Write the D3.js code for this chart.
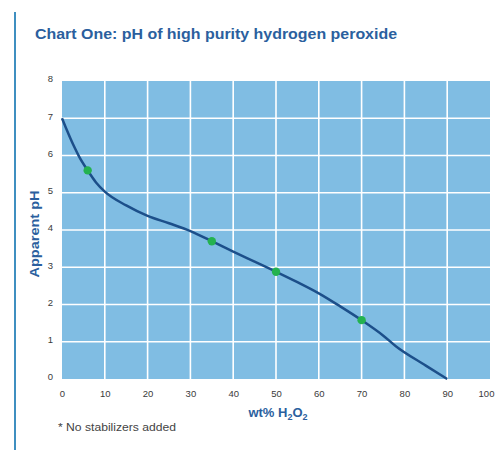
<!DOCTYPE html>
<html>
<head>
<meta charset="utf-8">
<script src="https://cdn.jsdelivr.net/npm/d3@7"></script>
<style>
  body { margin: 0; background: #fff; font-family: "Liberation Sans", Arial, sans-serif; }
</style>
</head>
<body>
<div id="wrapper"></div>
<script>
// 1. Data

const wtPercent = [0, 1, 2, 3, 4, 6, 8, 10, 15, 20, 25, 30, 35, 40, 45, 50, 55, 60, 65, 70, 75, 78, 85, 90]
const apparentPH = [7.0, 6.72, 6.45, 6.2, 5.97, 5.6, 5.27, 5.03, 4.66, 4.38, 4.18, 3.97, 3.7, 3.42, 3.15, 2.88, 2.6, 2.3, 1.95, 1.58, 1.17, 0.88, 0.36, 0]

const markerWt = [6, 35, 50, 70]
const markerPH = [5.6, 3.7, 2.88, 1.58]

const xTicks = [0, 10, 20, 30, 40, 50, 60, 70, 80, 90, 100]
const yTicks = [0, 1, 2, 3, 4, 5, 6, 7, 8]

const curve = wtPercent.map((d, i) => ({ x: d, y: apparentPH[i] }))
const markers = markerWt.map((d, i) => ({ x: d, y: markerPH[i] }))

// 2. Dimensions

const dimensions = {
  width: 498,
  height: 450,
  margin: { top: 81, right: 8, bottom: 71, left: 62 },
}
dimensions.boundedWidth = dimensions.width - dimensions.margin.left - dimensions.margin.right
dimensions.boundedHeight = dimensions.height - dimensions.margin.top - dimensions.margin.bottom

// 3. Canvas

const wrapper = d3.select("#wrapper")
  .append("svg")
    .attr("width", dimensions.width)
    .attr("height", dimensions.height)

wrapper.append("line")
    .attr("x1", 15).attr("x2", 15)
    .attr("y1", 12).attr("y2", 450)
    .attr("stroke", "#3f8fc0")
    .attr("stroke-width", 2)

wrapper.append("text")
    .attr("x", 35)
    .attr("y", 39)
    .attr("fill", "#2b5f9e")
    .attr("textLength", 362)
    .attr("lengthAdjust", "spacingAndGlyphs")
    .style("font-size", "15px")
    .style("font-weight", "bold")
    .text("Chart One: pH of high purity hydrogen peroxide")

const bounds = wrapper.append("g")
    .attr("transform", `translate(${dimensions.margin.left}, ${dimensions.margin.top})`)

// 4. Scales

const xScale = d3.scaleLinear()
  .domain([0, 100])
  .range([0, dimensions.boundedWidth])

const yScale = d3.scaleLinear()
  .domain([0, 8])
  .range([dimensions.boundedHeight, 0])

// 5. Background and grid

bounds.append("rect")
    .attr("width", dimensions.boundedWidth)
    .attr("height", dimensions.boundedHeight)
    .attr("fill", "#80bde3")

bounds.selectAll(".vgrid")
  .data(xTicks.slice(1, -1))
  .join("line")
    .attr("class", "vgrid")
    .attr("x1", d => xScale(d)).attr("x2", d => xScale(d))
    .attr("y1", 0).attr("y2", dimensions.boundedHeight)
    .attr("stroke", "#fff")
    .attr("stroke-width", 1.6)

bounds.selectAll(".hgrid")
  .data(yTicks.slice(1, -1))
  .join("line")
    .attr("class", "hgrid")
    .attr("x1", 0).attr("x2", dimensions.boundedWidth)
    .attr("y1", d => yScale(d)).attr("y2", d => yScale(d))
    .attr("stroke", "#fff")
    .attr("stroke-width", 1.6)

// 6. Data

const lineGenerator = d3.line()
  .x(d => xScale(d.x))
  .y(d => yScale(d.y))
  .curve(d3.curveMonotoneX)

bounds.append("path")
    .datum(curve)
    .attr("d", lineGenerator)
    .attr("fill", "none")
    .attr("stroke", "#1c4f8a")
    .attr("stroke-width", 2.5)

bounds.selectAll(".dot")
  .data(markers)
  .join("circle")
    .attr("class", "dot")
    .attr("cx", d => xScale(d.x))
    .attr("cy", d => yScale(d.y))
    .attr("r", 4.2)
    .attr("fill", "#24b24f")

// 7. Axes

const xAxis = bounds.append("g")
    .attr("transform", `translate(0, ${dimensions.boundedHeight})`)
    .call(d3.axisBottom(xScale).tickValues(xTicks).tickSize(0).tickPadding(11))
xAxis.select(".domain").remove()
xAxis.selectAll("text")
    .attr("fill", "#3a3a3a")
    .attr("dx", d => d === 100 ? -4 : 0)
    .style("font-size", "9.5px")
    .style("font-family", "Liberation Sans, Arial, sans-serif")

const yAxis = bounds.append("g")
    .call(d3.axisLeft(yScale).tickValues(yTicks).tickSize(0).tickPadding(9))
yAxis.select(".domain").remove()
yAxis.selectAll("text")
    .attr("fill", "#3a3a3a")
    .attr("dy", "0.1em")
    .style("font-size", "9.5px")
    .style("font-family", "Liberation Sans, Arial, sans-serif")

const xLabel = wrapper.append("text")
    .attr("x", 278)
    .attr("y", 417)
    .attr("text-anchor", "middle")
    .attr("fill", "#2b5f9e")
    .style("font-size", "13px")
    .style("font-weight", "bold")
xLabel.append("tspan").text("wt% H")
xLabel.append("tspan").attr("dy", 3).style("font-size", "9px").text("2")
xLabel.append("tspan").attr("dy", -3).text("O")
xLabel.append("tspan").attr("dy", 3).style("font-size", "9px").text("2")

wrapper.append("text")
    .attr("transform", "translate(39, 234) rotate(-90)")
    .attr("text-anchor", "middle")
    .attr("fill", "#2b5f9e")
    .attr("textLength", 87)
    .attr("lengthAdjust", "spacingAndGlyphs")
    .style("font-size", "13px")
    .style("font-weight", "bold")
    .text("Apparent pH")

wrapper.append("text")
    .attr("x", 58)
    .attr("y", 431)
    .attr("fill", "#444")
    .attr("textLength", 118)
    .attr("lengthAdjust", "spacingAndGlyphs")
    .style("font-size", "10.5px")
    .text("* No stabilizers added")
</script>
</body>
</html>
